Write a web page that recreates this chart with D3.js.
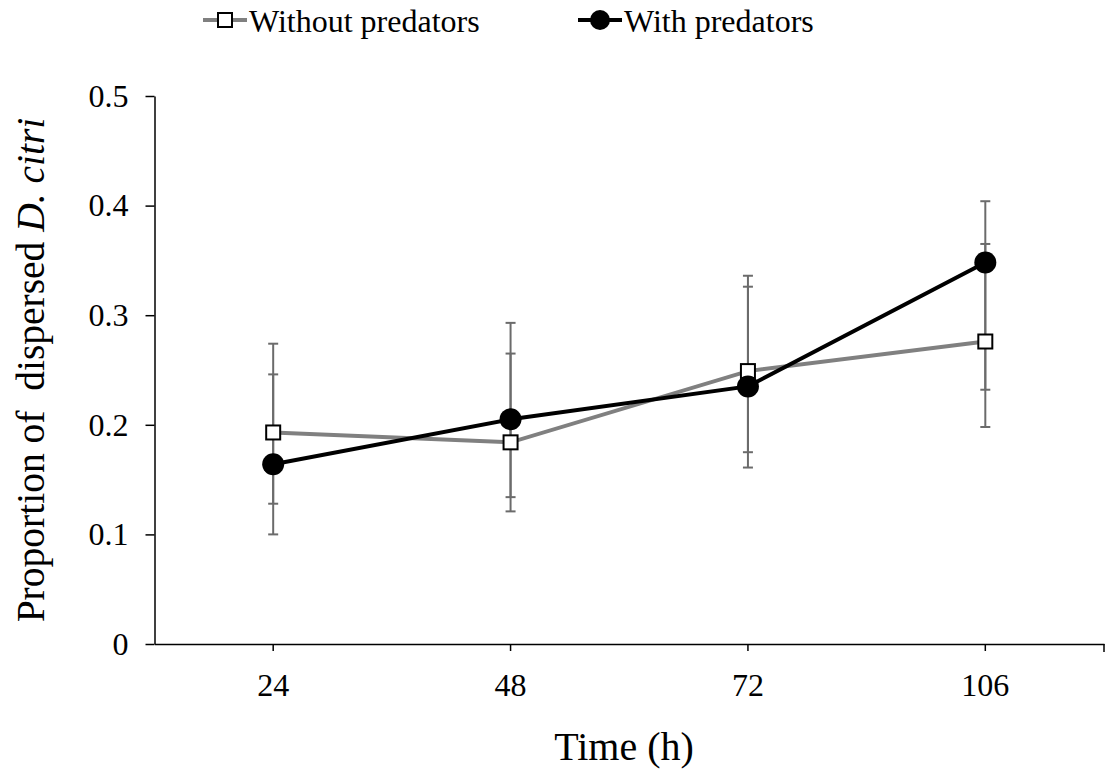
<!DOCTYPE html>
<html>
<head>
<meta charset="utf-8">
<script src="https://cdn.jsdelivr.net/npm/d3@7"></script>
<style>
  body { margin: 0; background: #fff; }
  text { font-family: "Liberation Serif", "Times New Roman", serif; }
</style>
</head>
<body>
<svg id="chart" width="1107" height="778"></svg>
<script>
// values
const times = ['24', '48', '72', '106'];
const withoutPred = [0.193, 0.184, 0.249, 0.276];
const withoutHi = [0.274, 0.265, 0.336, 0.365];
const withoutLo = [0.128, 0.134, 0.161, 0.198];
const withPred = [0.164, 0.205, 0.235, 0.348];
const withHi = [0.246, 0.293, 0.326, 0.404];
const withLo = [0.100, 0.121, 0.175, 0.232];
const yTicks = [0, 0.1, 0.2, 0.3, 0.4, 0.5];

const svg = d3.select('#chart');
const mLeft = 154.5, mRight = 1104, mTop = 96, mBottom = 644;

const x = d3.scaleBand().domain(times).range([mLeft, mRight]);
const y = d3.scaleLinear().domain([0, 0.5]).range([mBottom, mTop]);
const cx = t => x(t) + x.bandwidth() / 2;

// axes
const $yAxis = svg.append('g')
  .attr('transform', `translate(${mLeft},0)`)
  .call(d3.axisLeft(y).tickValues(yTicks).tickFormat(d => d === 0 ? '0' : d3.format('.1f')(d))
    .tickSize(9).tickSizeOuter(0).tickPadding(17));
$yAxis.selectAll('text').attr('font-size', 32).attr('fill', '#000')
  .style('font-family', '"Liberation Serif", serif');

const $xAxis = svg.append('g')
  .attr('transform', `translate(0,${mBottom})`)
  .call(d3.axisBottom(x).tickSize(7).tickSizeOuter(0).tickPadding(22));
$xAxis.selectAll('text').attr('font-size', 32).attr('fill', '#000')
  .style('font-family', '"Liberation Serif", serif');
// closing tick at the right end of the category axis
$xAxis.append('line').attr('x1', mRight).attr('x2', mRight).attr('y1', 0).attr('y2', 8)
  .attr('stroke', '#000').attr('stroke-width', 1.5);

svg.selectAll('.domain, .tick line').attr('stroke', '#000').attr('stroke-width', 1.5);

// series
const series = [
  { name: 'Without predators', vals: withoutPred, hi: withoutHi, lo: withoutLo, color: '#808080', marker: 'square' },
  { name: 'With predators', vals: withPred, hi: withHi, lo: withLo, color: '#000', marker: 'circle' }
];

// error bars behind everything
const $err = svg.append('g');
series.forEach(s => {
  times.forEach((t, i) => {
    const px = cx(t);
    $err.append('line').attr('x1', px).attr('x2', px)
      .attr('y1', y(s.hi[i])).attr('y2', y(s.lo[i]))
      .attr('stroke', '#6b6b6b').attr('stroke-width', 2);
    [s.hi[i], s.lo[i]].forEach(v => {
      $err.append('line').attr('x1', px - 5).attr('x2', px + 5)
        .attr('y1', y(v)).attr('y2', y(v))
        .attr('stroke', '#6b6b6b').attr('stroke-width', 2);
    });
  });
});

const line = d3.line().x((d, i) => cx(times[i])).y(d => y(d));

series.forEach(s => {
  const $g = svg.append('g');
  $g.append('path').datum(s.vals).attr('d', line)
    .attr('fill', 'none').attr('stroke', s.color).attr('stroke-width', 4);
  if (s.marker === 'square') {
    $g.selectAll('rect').data(s.vals).enter().append('rect')
      .attr('x', (d, i) => cx(times[i]) - 7).attr('y', d => y(d) - 7)
      .attr('width', 14).attr('height', 14)
      .attr('fill', '#fff').attr('stroke', '#000').attr('stroke-width', 2);
  } else {
    $g.selectAll('circle').data(s.vals).enter().append('circle')
      .attr('cx', (d, i) => cx(times[i])).attr('cy', d => y(d)).attr('r', 11)
      .attr('fill', '#000');
  }
});

// legend
const legendX = [203, 578];
series.forEach((s, i) => {
  const $l = svg.append('g').attr('transform', `translate(${legendX[i]},20)`);
  $l.append('line').attr('x1', 0).attr('x2', 44).attr('y1', 0).attr('y2', 0)
    .attr('stroke', s.color).attr('stroke-width', 4);
  if (s.marker === 'square') {
    $l.append('rect').attr('x', 15).attr('y', -7).attr('width', 14).attr('height', 14)
      .attr('fill', '#fff').attr('stroke', '#000').attr('stroke-width', 2);
  } else {
    $l.append('circle').attr('cx', 22).attr('cy', 0).attr('r', 10).attr('fill', '#000');
  }
  $l.append('text').attr('x', 46).attr('y', 12).attr('font-size', 32).text(s.name);
});

// axis titles
svg.append('text').attr('x', 624).attr('y', 760).attr('text-anchor', 'middle')
  .attr('font-size', 40).text('Time (h)');

const $yt = svg.append('text')
  .attr('transform', 'translate(44,370) rotate(-90)')
  .attr('text-anchor', 'middle').attr('font-size', 39.5)
  .style('white-space', 'pre');
$yt.append('tspan').text('Proportion of  dispersed ');
$yt.append('tspan').attr('font-style', 'italic').text('D. citri');
</script>
</body>
</html>
